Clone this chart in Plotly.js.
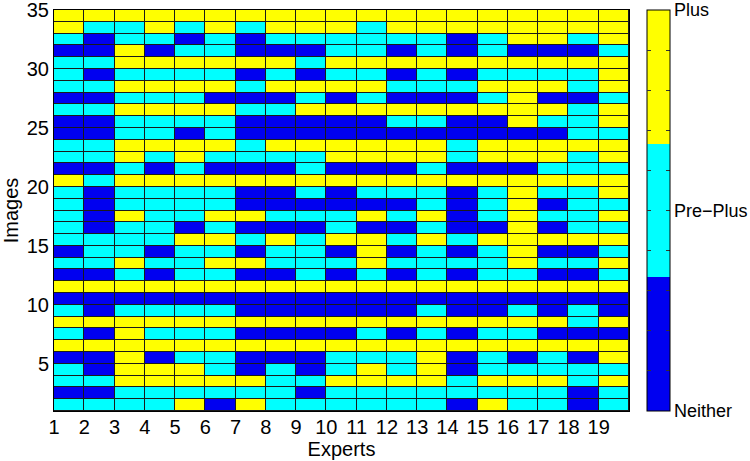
<!DOCTYPE html>
<html>
<head>
<meta charset="utf-8">
<script src="https://cdn.plot.ly/plotly-3.0.1.min.js"></script>
<style>html,body{margin:0;padding:0;background:#fff;}#chart{width:750px;height:461px;}</style>
</head>
<body>
<div id="chart"></div>
<script>
// Experts (columns) and images (rows)
const experts = [1,2,3,4,5,6,7,8,9,10,11,12,13,14,15,16,17,18,19];
const images = [1,2,3,4,5,6,7,8,9,10,11,12,13,14,15,16,17,18,19,20,21,22,23,24,25,26,27,28,29,30,31,32,33,34];
// Rating levels: 1 = Neither, 2 = Pre-Plus, 3 = Plus
const levelValues = [1, 2, 3];
const levelLabels = ['Neither', 'Pre\u2212Plus', 'Plus'];
const levelColors = ['#0000f0', '#00ffff', '#ffff00'];
const xTicks = [1,2,3,4,5,6,7,8,9,10,11,12,13,14,15,16,17,18,19];
const yTicks = [5,10,15,20,25,30,35];
// ratings[i] = ratings of image i+1 by experts 1..19
const ratings = [
  [2,2,2,2,3,1,3,2,2,2,2,2,2,1,3,2,2,1,2], // 1
  [1,1,2,2,2,2,2,2,1,2,2,2,2,2,2,2,2,1,2], // 2
  [2,2,3,3,3,3,3,2,2,3,3,3,3,2,3,3,3,2,3], // 3
  [2,1,3,3,3,2,1,2,1,2,3,2,3,1,2,2,2,2,2], // 4
  [1,1,3,1,2,2,1,1,1,2,2,2,3,1,2,1,2,1,3], // 5
  [3,3,3,3,3,3,3,3,3,3,3,3,3,3,3,3,3,3,3], // 6
  [2,1,3,2,2,2,1,1,1,1,2,1,2,1,2,2,1,1,1], // 7
  [3,3,3,3,3,3,3,3,3,3,3,3,3,3,3,3,3,2,3], // 8
  [2,1,2,2,2,2,1,1,1,1,1,1,2,1,1,2,1,2,1], // 9
  [1,1,1,1,1,1,1,1,1,1,1,1,1,1,1,1,1,1,1], // 10
  [3,3,3,3,3,3,3,3,3,3,3,3,3,3,3,3,3,3,3], // 11
  [1,1,2,1,2,2,1,1,2,1,2,1,2,1,2,2,1,1,2], // 12
  [2,2,3,2,2,3,3,2,2,2,3,2,2,2,2,3,2,2,3], // 13
  [1,2,2,1,2,2,1,2,2,1,3,1,2,1,2,3,1,1,2], // 14
  [2,2,2,2,3,3,2,3,2,3,3,2,3,2,3,3,3,3,3], // 15
  [2,1,2,2,1,2,1,1,1,2,1,1,2,1,1,3,1,2,2], // 16
  [2,1,3,2,2,3,3,2,2,2,3,2,3,1,2,3,2,2,3], // 17
  [2,1,2,2,2,2,1,1,1,1,1,1,2,1,2,3,1,2,2], // 18
  [2,1,2,2,2,2,1,1,2,1,2,2,2,1,2,3,2,2,3], // 19
  [3,2,3,3,3,3,3,3,3,3,3,3,3,3,3,3,3,3,3], // 20
  [1,1,2,1,2,1,1,1,2,1,1,1,2,1,1,1,2,2,2], // 21
  [2,2,3,2,3,2,2,2,2,3,3,3,3,2,3,3,3,2,3], // 22
  [2,2,3,3,3,3,2,3,3,3,3,3,3,2,3,3,3,3,3], // 23
  [1,1,2,2,1,2,1,1,1,1,1,1,1,1,1,1,1,2,2], // 24
  [1,1,2,2,2,2,1,1,1,1,1,2,2,1,1,3,2,2,3], // 25
  [2,2,3,3,3,3,2,2,3,3,3,3,3,3,3,3,3,2,3], // 26
  [1,1,2,2,2,1,1,1,2,1,2,1,1,1,2,3,1,1,2], // 27
  [2,2,3,3,3,3,2,3,3,3,3,2,2,2,3,3,3,2,3], // 28
  [2,1,2,2,2,2,1,2,1,2,2,1,2,1,2,2,2,2,3], // 29
  [2,2,3,3,3,3,3,3,2,3,3,3,3,3,3,3,3,3,3], // 30
  [1,1,3,1,2,2,1,1,1,2,2,1,2,1,2,1,1,1,2], // 31
  [2,1,2,2,1,2,1,2,2,2,2,2,2,1,2,3,3,2,3], // 32
  [3,2,2,3,2,3,2,3,3,3,2,3,3,3,3,3,3,3,3], // 33
  [3,3,3,3,3,3,3,3,3,3,3,3,3,3,3,3,3,3,3]  // 34
];

// pcolor-style cell edges
const xEdges = experts.concat([experts[experts.length - 1] + 1]);
const yEdges = images.concat([images[images.length - 1] + 1]);

const zMin = levelValues[0], zMax = levelValues[levelValues.length - 1];
const colorscale = [];
levelColors.forEach((c, i) => {
  colorscale.push([i / levelColors.length, c]);
  colorscale.push([(i + 1) / levelColors.length, c]);
});

const cbTickVals = [1.2, 1.4, 1.6, 1.8, 2, 2.2, 2.4, 2.6, 2.8];

const FONT = 'Liberation Sans, Arial, Helvetica, sans-serif';
const plotW = 750 - 54 - 121;
const cbThick = 23;
const cbX = (647 - 54) / plotW;

const trace = {
  type: 'heatmap',
  x: xEdges,
  y: yEdges,
  z: ratings,
  zmin: zMin,
  zmax: zMax,
  colorscale: colorscale,
  xgap: 1,
  ygap: 1,
  hoverinfo: 'skip',
  colorbar: {
    thickness: cbThick, thicknessmode: 'pixels',
    len: 1, lenmode: 'fraction',
    x: cbX, xanchor: 'left', xpad: 0,
    y: 0.5, yanchor: 'middle', ypad: 0,
    outlinewidth: 1, outlinecolor: '#000',
    tickmode: 'array', tickvals: cbTickVals,
    ticks: 'inside', ticklen: 4, tickcolor: '#333',
    showticklabels: false
  }
};

// transparent helper colorbar whose outside ticks mark the left edge of the bar
const tickTrace = {
  type: 'heatmap',
  x: xEdges,
  y: yEdges,
  z: ratings,
  zmin: zMin,
  zmax: zMax,
  opacity: 0,
  colorscale: [[0, 'rgba(0,0,0,0)'], [1, 'rgba(0,0,0,0)']],
  hoverinfo: 'skip',
  colorbar: {
    thickness: 1, thicknessmode: 'pixels',
    len: 1, lenmode: 'fraction',
    x: cbX - 1 / plotW, xanchor: 'left', xpad: 0,
    y: 0.5, yanchor: 'middle', ypad: 0,
    outlinewidth: 0, bgcolor: 'rgba(0,0,0,0)',
    tickmode: 'array', tickvals: cbTickVals,
    ticks: 'outside', ticklen: 4, tickcolor: '#333',
    showticklabels: false
  }
};

const annotations = levelValues.map((v, i) => ({
  xref: 'paper', yref: 'paper',
  x: cbX + (cbThick + 2) / plotW,
  y: (v - zMin) / (zMax - zMin),
  xanchor: 'left', yanchor: 'middle',
  text: levelLabels[i], showarrow: false,
  font: {family: FONT, size: 18, color: '#000'}
}));

const layout = {
  width: 750, height: 461,
  margin: {l: 54, r: 121, t: 10, b: 50, pad: 0},
  paper_bgcolor: '#fff',
  plot_bgcolor: '#1a1a1a',
  font: {family: FONT, size: 20, color: '#000'},
  xaxis: {
    range: [xEdges[0], xEdges[xEdges.length - 1]],
    tickmode: 'array', tickvals: xTicks,
    ticks: '', showgrid: false, zeroline: false,
    showline: true, mirror: true, linecolor: '#000', linewidth: 1,
    ticklabeloverflow: 'allow', ticklabelstandoff: -2,
    tickfont: {family: FONT, size: 20, color: '#000'},
    title: {text: 'Experts', font: {family: FONT, size: 20, color: '#000'}, standoff: 0},
    automargin: false
  },
  yaxis: {
    range: [yEdges[0], yEdges[yEdges.length - 1]],
    tickmode: 'array', tickvals: yTicks,
    ticks: '', showgrid: false, zeroline: false,
    showline: true, mirror: true, linecolor: '#000', linewidth: 1,
    ticklabeloverflow: 'allow',
    tickfont: {family: FONT, size: 20, color: '#000'},
    title: {text: 'Images', font: {family: FONT, size: 20, color: '#000'}, standoff: 9},
    automargin: false
  },
  annotations: annotations,
  showlegend: false
};

Plotly.newPlot('chart', [trace, tickTrace], layout, {displayModeBar: false, staticPlot: true});
</script>
</body>
</html>
